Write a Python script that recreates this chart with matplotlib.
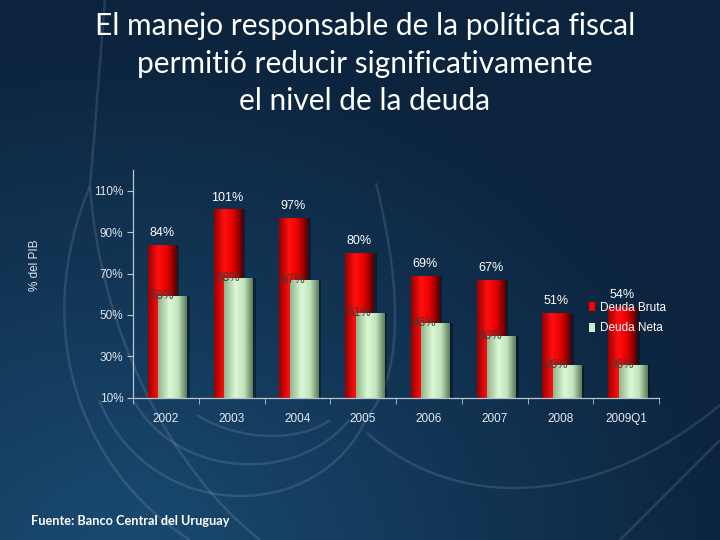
import numpy as np
import matplotlib
matplotlib.use("Agg")
import matplotlib.pyplot as plt
from matplotlib.colors import LinearSegmentedColormap
from matplotlib.patches import Patch, PathPatch
from matplotlib.path import Path

# ---- data ----
years = ['2002', '2003', '2004', '2005', '2006', '2007', '2008', '2009Q1']
deuda_bruta = [84, 101, 97, 80, 69, 67, 51, 54]
deuda_neta = [59, 68, 67, 51, 46, 40, 26, 26]
yticks = [10, 30, 50, 70, 90, 110]
series_names = ['Deuda Bruta', 'Deuda Neta']

title_lines = ["El manejo responsable de la política fiscal",
               "permitió reducir significativamente",
               "el nivel de la deuda"]
source = "Fuente: Banco Central del Uruguay"

W, H = 720, 540
BASE = 10
fig = plt.figure(figsize=(7.2, 5.4), dpi=100)

# ---- background ----
bg = fig.add_axes([0, 0, 1, 1], zorder=-10)
bg.set_xlim(0, W)
bg.set_ylim(H, 0)
bg.axis('off')
yy, xx = np.mgrid[0:H:4, 0:W:4]
r = np.sqrt(((xx - 120) / 620.0) ** 2 + ((yy - 560) / 520.0) ** 2)
t = np.clip(r, 0, 1.0)
c_light = np.array([0x1a, 0x4b, 0x72]) / 255.0
c_dark = np.array([0x0c, 0x24, 0x3e]) / 255.0
img = c_light[None, None, :] * (1 - t[..., None]) + c_dark[None, None, :] * t[..., None]
bg.imshow(img, extent=[0, W, H, 0], aspect='auto', interpolation='bicubic', zorder=0)

arc_color = (0.78, 0.85, 0.92)
curves = [
    [(90, 186), (30, 330), (80, 470), (190, 540)],
    [(90, 186), (100, 330), (170, 470), (260, 540)],
    [(105, 0), (100, 60), (95, 130), (90, 186)],
    [(376, 183), (405, 300), (400, 380), (367, 417)],
    [(99, 400), (150, 525), (320, 525), (367, 417)],
    [(133, 400), (180, 482), (300, 482), (349, 420)],
    [(197, 415), (240, 442), (300, 442), (330, 420)],
    [(367, 433), (460, 515), (600, 505), (720, 405)],
    [(720, 440), (680, 480), (650, 510), (620, 540)],
]
for pts in curves:
    p = Path(pts, [Path.MOVETO, Path.CURVE4, Path.CURVE4, Path.CURVE4])
    bg.add_patch(PathPatch(p, fill=False, edgecolor=arc_color, lw=1.8, alpha=0.14, zorder=1))

# ---- title and source ----
for line, yb in zip(title_lines, [35, 73, 110]):
    fig.text(365 / W, 1 - yb / H, line, ha='center', va='baseline', color='white',
             fontsize=21.5, family='Lato')
fig.text(31 / W, 1 - 521 / H, source, ha='left', va='center', color='white',
         fontsize=9.2, family='Lato', fontweight='bold')

# ---- chart ----
ax = fig.add_axes([133 / W, 1 - 397.7 / H, (659 - 133) / W, (397.7 - 170) / H])
ax.set_facecolor('none')
x = np.arange(len(years))
bw = 0.43
off_r, off_g = -0.06, 0.10

red_cmap = LinearSegmentedColormap.from_list('r', [(0, '#9a0000'), (0.35, '#ff1010'),
                                                    (0.65, '#e80000'), (1, '#5a0000')])
grn_cmap = LinearSegmentedColormap.from_list('g', [(0, '#8fb58c'), (0.4, '#dcf8d6'),
                                                    (0.7, '#bfe3ba'), (1, '#5d7c5b')])

def shade(bars, cmap, z):
    grad = np.linspace(0, 1, 64).reshape(1, -1)
    for b in bars:
        x0, y0, w, h = b.get_x(), b.get_y(), b.get_width(), b.get_height()
        im = ax.imshow(grad, extent=[x0, x0 + w, y0, y0 + h], aspect='auto',
                       cmap=cmap, zorder=z, interpolation='bicubic')
        im.set_clip_path(b)

hb = [v - BASE for v in deuda_bruta]
hn = [v - BASE for v in deuda_neta]
ax.bar(x + off_r + 0.05, hb, bw, bottom=BASE, color='black', alpha=0.35, zorder=1, linewidth=0)
rb = ax.bar(x + off_r, hb, bw, bottom=BASE, color='#e00000', zorder=2, linewidth=0)
shade(rb, red_cmap, 2.1)
ax.bar(x + off_g + 0.05, hn, bw, bottom=BASE, color='black', alpha=0.35, zorder=3, linewidth=0)
gb = ax.bar(x + off_g, hn, bw, bottom=BASE, color='#c8f0c0', zorder=4, linewidth=0)
shade(gb, grn_cmap, 4.1)

for i in range(len(years)):
    ax.text(x[i] + off_r, deuda_bruta[i] + 5.5, f"{deuda_bruta[i]}%", ha='center', va='center',
            color='white', fontsize=9, family='Liberation Sans', zorder=6, clip_on=False)
    ax.text(x[i] + off_r, deuda_neta[i], f"{deuda_neta[i]}%", ha='center', va='center',
            color='#3c3c3c', fontsize=8.5, family='Liberation Sans', zorder=6, clip_on=False)

ax.set_xlim(-0.5, len(years) - 0.5)
ax.set_ylim(BASE, 120)
ax.set_yticks(yticks)
ax.set_yticklabels([f"{v}%" for v in yticks], family='Liberation Sans', fontsize=8.5, color='#dde4ec')
ax.set_xticks(x)
ax.set_xticklabels(years, family='Liberation Sans', fontsize=8.5, color='#e6ecf2')
ax.set_xticks(np.arange(-0.5, len(years), 1.0), minor=True)
ax.tick_params(axis='x', which='major', length=0, pad=11)
ax.tick_params(axis='x', which='minor', length=4, color='#b8c4d0', direction='out')
ax.tick_params(axis='y', length=4, color='#b8c4d0', direction='out', pad=3)
for s in ['top', 'right']:
    ax.spines[s].set_visible(False)
for s in ['left', 'bottom']:
    ax.spines[s].set_color('#b8c4d0')
    ax.spines[s].set_linewidth(0.9)
    ax.spines[s].set_zorder(5)

fig.text(35 / W, 1 - 265 / H, '% del PIB', rotation=90, ha='center', va='center',
         color='#dde4ec', fontsize=8.5, family='Liberation Sans')

handles = [Patch(facecolor='#ff0000', edgecolor='none'), Patch(facecolor='#c8f0c0', edgecolor='none')]
leg = fig.legend(handles, series_names, loc='upper left', bbox_to_anchor=(589 / W, 1 - 302 / H),
                 frameon=False, handlelength=0.55, handleheight=0.8,
                 handletextpad=0.35, labelspacing=0.7, borderpad=0, borderaxespad=0,
                 prop={'family': 'Liberation Sans', 'size': 8.5})
for txt in leg.get_texts():
    txt.set_color('white')
leg.set_zorder(10)

fig.savefig('out.png', dpi=100, facecolor='#0f2a45')
